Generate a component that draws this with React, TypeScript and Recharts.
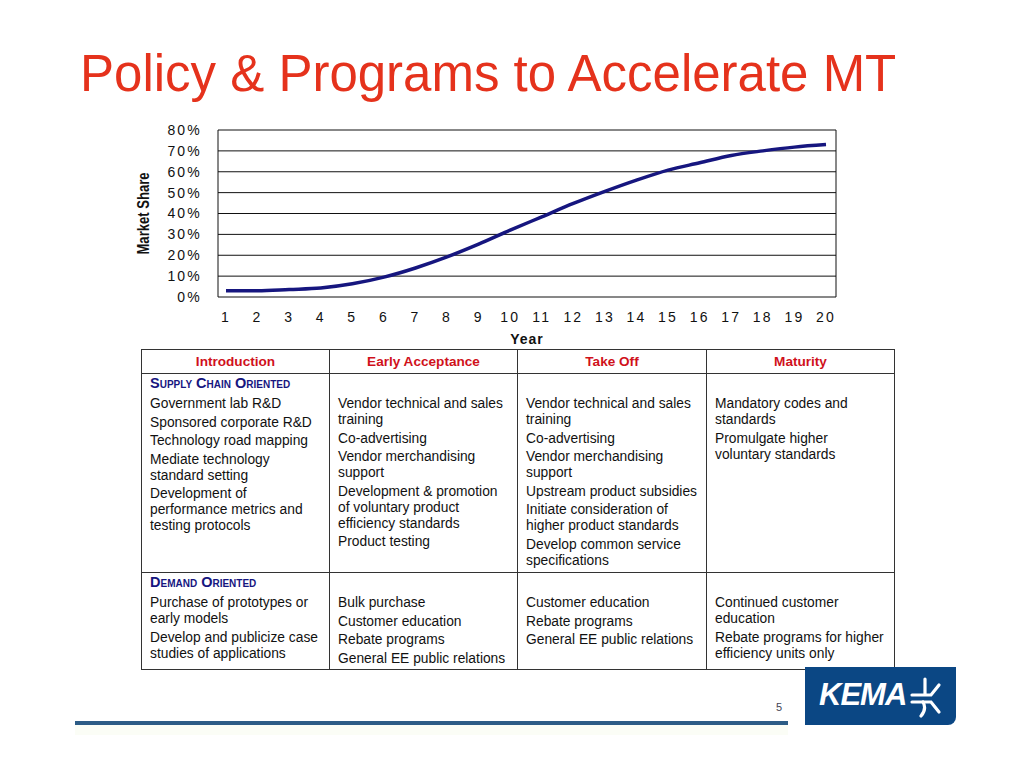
import { LineChart, Line, XAxis, YAxis, CartesianGrid, Label } from 'recharts';

const years = [1, 2, 3, 4, 5, 6, 7, 8, 9, 10, 11, 12, 13, 14, 15, 16, 17, 18, 19, 20];
const marketShare = [3, 3, 3.6, 4.3, 6.3, 9.5, 13.9, 19.2, 25.3, 32, 38.4, 44.8, 50.6, 56, 60.8, 64.3, 67.8, 70, 71.8, 73];
const shareTicks = [0, 10, 20, 30, 40, 50, 60, 70, 80];

const phases = ['Introduction', 'Early Acceptance', 'Take Off', 'Maturity'];
const supplyItems = [
  ['Government lab R&D', 'Sponsored corporate R&D', 'Technology road mapping', 'Mediate technology standard setting', 'Development of performance metrics and testing protocols'],
  ['Vendor technical and sales training', 'Co-advertising', 'Vendor merchandising support', 'Development & promotion of voluntary product efficiency standards', 'Product testing'],
  ['Vendor technical and sales training', 'Co-advertising', 'Vendor merchandising support', 'Upstream product subsidies', 'Initiate consideration of higher product standards', 'Develop common service specifications'],
  ['Mandatory codes and standards', 'Promulgate higher voluntary standards'],
];
const demandItems = [
  ['Purchase of prototypes or early models', 'Develop and publicize case studies of applications'],
  ['Bulk purchase', 'Customer education', 'Rebate programs', 'General EE public relations'],
  ['Customer education', 'Rebate programs', 'General EE public relations'],
  ['Continued customer education', 'Rebate programs for higher efficiency units only'],
];

const data = years.map((y, i) => ({ year: y, share: marketShare[i] }));

const cellFont = '"Liberation Sans", Arial, Helvetica, sans-serif';
const tickFont = { fontFamily: cellFont, fontSize: 14, fill: '#111', letterSpacing: 2.2 };
const navy = '#16167F';
const border = '1px solid #333';

const SectionHead = ({ text }: { text: string }) => (
  <div style={{ color: navy, fontWeight: 'bold', fontSize: 14.5, height: 22, lineHeight: '18px', fontVariant: 'small-caps', whiteSpace: 'nowrap' }}>
    {text}
  </div>
);

const Items = ({ items }: { items: string[] }) => (
  <div>
    {items.map((t, i) => (
      <div key={i} style={{ lineHeight: '16px', marginBottom: 2.5 }}>{t}</div>
    ))}
  </div>
);

const App = () => {
  const colW = [188, 188, 189, 188];
  return (
    <div style={{ position: 'absolute', left: 0, top: 0, width: 1024, height: 768, background: '#fff', overflow: 'hidden' }}>
      <div style={{ position: 'absolute', left: 80, top: 44, fontFamily: cellFont, fontSize: 51, color: '#E5321C', whiteSpace: 'nowrap', lineHeight: '60px' }}>
        Policy &amp; Programs to Accelerate MT
      </div>

      <div style={{ position: 'absolute', left: 130, top: 115 }}>
        <LineChart width={720} height={232} data={data} margin={{ top: 15, right: 14, bottom: 0, left: 0 }}>
          <CartesianGrid
            stroke="#111"
            strokeWidth={1}
            horizontal
            vertical
            verticalCoordinatesGenerator={({ offset }: any) => [offset.left, offset.left + offset.width]}
          />
          <XAxis
            dataKey="year"
            type="number"
            domain={[1, 20]}
            ticks={years}
            padding={{ left: 8, right: 10 }}
            axisLine={false}
            tickLine={false}
            tickSize={0}
            tickMargin={15}
            height={50}
            tick={tickFont}
            interval={0}
          >
            <Label value="Year" position="insideBottom" offset={3} style={{ fontFamily: cellFont, fontWeight: 'bold', fontSize: 14, fill: '#111', letterSpacing: 1 }} />
          </XAxis>
          <YAxis
            type="number"
            domain={[0, 80]}
            ticks={shareTicks}
            tickFormatter={(v: number) => `${v}%`}
            axisLine={false}
            tickLine={false}
            tickSize={0}
            tickMargin={16}
            width={88}
            tick={tickFont}
            interval={0}
          >
            <Label
              content={({ viewBox }: any) => {
                const cx = viewBox.x + 13;
                const cy = viewBox.y + viewBox.height / 2;
                return (
                  <text x={cx} y={cy} transform={`rotate(-90, ${cx}, ${cy})`} textAnchor="middle" dominantBaseline="central"
                    textLength={82} lengthAdjust="spacingAndGlyphs"
                    style={{ fontFamily: cellFont, fontWeight: 'bold', fontSize: 16.5, fill: '#111' }}>
                    Market Share
                  </text>
                );
              }}
            />
          </YAxis>
          <Line type="monotone" dataKey="share" stroke={navy} strokeWidth={3.5} dot={false} isAnimationActive={false} />
        </LineChart>
      </div>

      <table style={{ position: 'absolute', left: 141, top: 349, width: 754, borderCollapse: 'collapse', fontFamily: cellFont, fontSize: 13.8, color: '#111', tableLayout: 'fixed' }}>
        <colgroup>
          {colW.map((w, i) => <col key={i} style={{ width: w }} />)}
        </colgroup>
        <tbody>
          <tr style={{ height: 24 }}>
            {phases.map((p) => (
              <td key={p} style={{ border, textAlign: 'center', color: '#D0111B', fontWeight: 'bold', padding: 0, fontSize: 13.6 }}>{p}</td>
            ))}
          </tr>
          <tr style={{ height: 199 }}>
            {supplyItems.map((items, i) => (
              <td key={i} style={{ border, verticalAlign: 'top', padding: '0 8px 0 8px' }}>
                {i === 0 ? <SectionHead text="Supply Chain Oriented" /> : <div style={{ height: 22 }} />}
                <Items items={items} />
              </td>
            ))}
          </tr>
          <tr style={{ height: 97 }}>
            {demandItems.map((items, i) => (
              <td key={i} style={{ border, verticalAlign: 'top', padding: '0 8px 0 8px' }}>
                {i === 0 ? <SectionHead text="Demand Oriented" /> : <div style={{ height: 22 }} />}
                <Items items={items} />
              </td>
            ))}
          </tr>
        </tbody>
      </table>

      <div style={{ position: 'absolute', left: 75, top: 721, width: 713, height: 4, background: '#2D5C86' }} />
      <div style={{ position: 'absolute', left: 75, top: 725, width: 713, height: 10, background: '#FBFDF6' }} />
      <div style={{ position: 'absolute', left: 776, top: 701, fontFamily: cellFont, fontSize: 11, color: '#445' }}>5</div>

      <div style={{ position: 'absolute', left: 805, top: 667, width: 151, height: 58, background: '#0B4784', borderBottomRightRadius: 8 }}>
        <div style={{ position: 'absolute', left: 14, top: 10, fontFamily: cellFont, fontWeight: 'bold', fontStyle: 'italic', fontSize: 31, color: '#fff', letterSpacing: -1, lineHeight: '36px' }}>
          KEMA
        </div>
        <svg style={{ position: 'absolute', left: 104, top: 9 }} width={40} height={42} viewBox="0 0 40 42">
          <g stroke="#fff" strokeWidth={3.2} fill="none" strokeLinecap="round">
            <path d="M16 3 L16 18" />
            <path d="M3 19 L22 19 L30 9" />
            <path d="M3 26 L22 26 L30 36" />
            <path d="M14 26 Q18 33 12 40" />
          </g>
        </svg>
      </div>
    </div>
  );
};

export default App;
